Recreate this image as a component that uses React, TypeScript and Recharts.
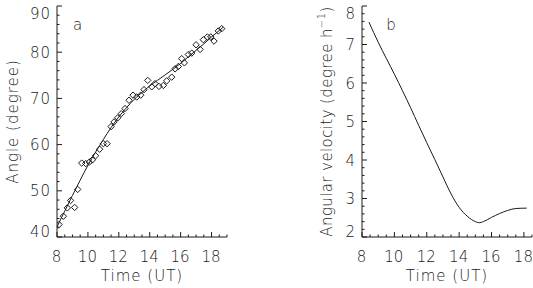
import { ComposedChart, Line, Scatter, XAxis, YAxis } from "recharts";

// panel a: observed angles and the fitted curve
const obsTime = [8.13, 8.41, 8.67, 8.88, 9.14, 9.34, 9.6, 9.86, 10.09, 10.29, 10.5, 10.76, 11.0, 11.24, 11.5, 11.69, 11.93, 12.16, 12.4, 12.66, 12.92, 13.16, 13.42, 13.63, 13.87, 14.13, 14.34, 14.6, 14.88, 15.1, 15.42, 15.64, 15.85, 16.07, 16.24, 16.5, 16.72, 17.0, 17.26, 17.47, 17.73, 17.95, 18.16, 18.44, 18.66];
const obsAngle = [42.7, 44.5, 46.3, 47.9, 46.4, 50.3, 56.0, 55.9, 56.2, 56.7, 57.6, 59.0, 60.2, 60.2, 63.9, 64.9, 65.8, 66.7, 67.8, 69.6, 70.7, 70.3, 70.7, 71.9, 73.9, 72.5, 73.2, 72.6, 72.8, 73.8, 74.6, 76.4, 76.9, 78.6, 77.7, 79.5, 79.8, 81.6, 80.6, 82.7, 83.3, 83.3, 82.4, 84.6, 85.1];

const fitTime = [8.0, 8.5, 9.0, 9.5, 10.0, 10.5, 11.0, 11.5, 12.0, 12.5, 13.0, 13.5, 14.0, 14.5, 15.0, 15.5, 16.0, 16.5, 17.0, 17.5, 18.0, 18.5, 18.75];
const fitAngle = [42.2, 45.6, 49.0, 52.3, 55.5, 58.4, 61.1, 63.7, 66.0, 68.0, 69.8, 71.3, 72.7, 73.9, 75.1, 76.3, 77.6, 79.0, 80.4, 81.8, 83.3, 84.7, 85.4];

// panel b: angular velocity
const velTime = [8.43, 9.0, 9.5, 10.0, 10.5, 11.0, 11.5, 12.0, 12.5, 13.0, 13.5, 14.0, 14.5, 15.0, 15.25, 15.5, 16.0, 16.5, 17.0, 17.5, 18.17];
const velValue = [7.58, 7.06, 6.64, 6.23, 5.8, 5.36, 4.9, 4.45, 4.01, 3.56, 3.12, 2.77, 2.54, 2.4, 2.37, 2.4, 2.51, 2.61, 2.69, 2.74, 2.75];

const timeMajor = [8, 10, 12, 14, 16, 18];
const timeMinorA = [8, 8.5, 9, 9.5, 10, 10.5, 11, 11.5, 12, 12.5, 13, 13.5, 14, 14.5, 15, 15.5, 16, 16.5, 17, 17.5, 18, 18.5, 19];
const timeMinorB = [8, 8.5, 9, 9.5, 10, 10.5, 11, 11.5, 12, 12.5, 13, 13.5, 14, 14.5, 15, 15.5, 16, 16.5, 17, 17.5, 18, 18.5];
const angleMajor = [40, 50, 60, 70, 80, 90];
const angleMinor = [40, 42, 44, 46, 48, 50, 52, 54, 56, 58, 60, 62, 64, 66, 68, 70, 72, 74, 76, 78, 80, 82, 84, 86, 88, 90];
const velMajor = [2, 3, 4, 5, 6, 7, 8];
const velMinor = [2, 2.2, 2.4, 2.6, 2.8, 3, 3.2, 3.4, 3.6, 3.8, 4, 4.2, 4.4, 4.6, 4.8, 5, 5.2, 5.4, 5.6, 5.8, 6, 6.2, 6.4, 6.6, 6.8, 7, 7.2, 7.4, 7.6, 7.8, 8];

const obsData = obsTime.map((t, i) => ({ t, a: obsAngle[i] }));
const fitData = fitTime.map((t, i) => ({ t, a: fitAngle[i] }));
const velData = velTime.map((t, i) => ({ t, v: velValue[i] }));

const FONT = "'DejaVu Sans', 'Liberation Sans', sans-serif";
const FW = 200;
const INK = "#1a1a1a";

type Side = "left" | "right" | "top" | "bottom";

function makeTick(side: Side, majors: number[], showLabels: boolean, lo: number, hi: number) {
  return (props: any) => {
    const { x, y, payload } = props;
    const v = payload.value;
    const major = majors.includes(v);
    const len = major ? 5 : 2.5;
    let line;
    if (side === "left") line = <line x1={x} y1={y} x2={x + len} y2={y} stroke={INK} />;
    else if (side === "right") line = <line x1={x} y1={y} x2={x - len} y2={y} stroke={INK} />;
    else if (side === "top") line = <line x1={x} y1={y} x2={x} y2={y + len} stroke={INK} />;
    else line = <line x1={x} y1={y} x2={x} y2={y - len} stroke={INK} />;

    let label = null;
    if (showLabels && major) {
      if (side === "left") {
        let dy = 5.5;
        if (v === hi) dy += 7;
        if (v === lo) dy -= 6;
        label = (
          <text x={x - 6} y={y} dy={dy} textAnchor="end" fontSize={15} fontWeight={FW} fontFamily={FONT} fill={INK} letterSpacing={1}>
            {v}
          </text>
        );
      } else if (side === "bottom") {
        label = (
          <text x={x - 0.5} y={y + 19} dy={5.5} textAnchor="middle" fontSize={15} fontWeight={FW} fontFamily={FONT} fill={INK}>
            {v}
          </text>
        );
      }
    }
    return (
      <g>
        {line}
        {label}
      </g>
    );
  };
}

const Diamond = (props: any) => {
  const { cx, cy } = props;
  const r = 3.2;
  return <path d={`M${cx},${cy - r}L${cx + r},${cy}L${cx},${cy + r}L${cx - r},${cy}Z`} fill="none" stroke={INK} strokeWidth={1} />;
};

const yTitle = (cxOffset: number, spacing: number, children: any) => (props: any) => {
  const { x, y, height } = props.viewBox;
  const cx = x + cxOffset;
  const cy = y + height / 2;
  return (
    <text x={cx} y={cy} transform={`rotate(-90, ${cx}, ${cy})`} textAnchor="middle" dominantBaseline="central" fontSize={15} fontWeight={FW} fontFamily={FONT} fill={INK} letterSpacing={spacing}>
      {children}
    </text>
  );
};

const xTitle = (props: any) => {
  const { x, y, width } = props.viewBox;
  return (
    <text x={x + width / 2} y={y + 39} textAnchor="middle" dominantBaseline="central" fontSize={15} fontWeight={FW} fontFamily={FONT} fill={INK} letterSpacing={1}>
      Time (UT)
    </text>
  );
};

const axisLine = { stroke: INK, strokeWidth: 1 };

export default function App() {
  return (
    <div style={{ position: "absolute", left: 0, top: 0, width: 533, height: 288, background: "#fff" }}>
      <div style={{ position: "absolute", left: 0, top: 0 }}>
        <ComposedChart width={240} height={288} margin={{ top: 6, right: 13, bottom: 0, left: 0 }}>
          <XAxis xAxisId="b" dataKey="t" type="number" domain={[8, 19]} ticks={timeMinorA} interval={0} allowDataOverflow
            height={51} tickSize={0} tickMargin={0} tickLine={false} axisLine={axisLine}
            tick={makeTick("bottom", timeMajor, true, 8, 19)} label={{ content: xTitle }} />
          <XAxis xAxisId="top" orientation="top" type="number" domain={[8, 19]} ticks={timeMinorA} interval={0} allowDataOverflow
            height={0} tickSize={0} tickMargin={0} tickLine={false} axisLine={axisLine}
            tick={makeTick("top", timeMajor, false, 8, 19)} />
          <YAxis yAxisId="l" dataKey="a" type="number" domain={[40, 90]} ticks={angleMinor} interval={0} allowDataOverflow
            width={57} tickSize={0} tickMargin={0} tickLine={false} axisLine={axisLine}
            tick={makeTick("left", angleMajor, true, 40, 90)} label={{ content: yTitle(12.5, 1, "Angle (degree)") }} />
          <YAxis yAxisId="r" orientation="right" type="number" domain={[40, 90]} ticks={angleMinor} interval={0} allowDataOverflow
            width={0} tickSize={0} tickMargin={0} tickLine={false} axisLine={axisLine}
            tick={makeTick("right", angleMajor, false, 40, 90)} />
          <Line xAxisId="b" yAxisId="l" data={fitData} dataKey="a" type="monotone" stroke={INK} strokeWidth={1} dot={false} isAnimationActive={false} />
          <Scatter xAxisId="b" yAxisId="l" data={obsData} dataKey="a" shape={Diamond} isAnimationActive={false} />
        </ComposedChart>
      </div>
      <div style={{ position: "absolute", left: 300, top: 0 }}>
        <ComposedChart width={233} height={288} margin={{ top: 6, right: 1, bottom: 0, left: 0 }}>
          <XAxis xAxisId="b" dataKey="t" type="number" domain={[8, 18.5]} ticks={timeMinorB} interval={0} allowDataOverflow
            height={51} tickSize={0} tickMargin={0} tickLine={false} axisLine={axisLine}
            tick={makeTick("bottom", timeMajor, true, 8, 18.5)} label={{ content: xTitle }} />
          <XAxis xAxisId="top" orientation="top" type="number" domain={[8, 18.5]} ticks={timeMinorB} interval={0} allowDataOverflow
            height={0} tickSize={0} tickMargin={0} tickLine={false} axisLine={axisLine}
            tick={makeTick("top", timeMajor, false, 8, 18.5)} />
          <YAxis yAxisId="l" dataKey="v" type="number" domain={[2, 8]} ticks={velMinor} interval={0} allowDataOverflow
            width={62} tickSize={0} tickMargin={0} tickLine={false} axisLine={axisLine}
            tick={makeTick("left", velMajor, true, 2, 8)}
            label={{
              content: yTitle(26.5, 0.4, (
                <>
                  Angular velocity (degree h
                  <tspan dy={-6} fontSize={10}>−1</tspan>
                  <tspan dy={6}>)</tspan>
                </>
              )),
            }} />
          <YAxis yAxisId="r" orientation="right" type="number" domain={[2, 8]} ticks={velMinor} interval={0} allowDataOverflow
            width={0} tickSize={0} tickMargin={0} tickLine={false} axisLine={axisLine}
            tick={makeTick("right", velMajor, false, 2, 8)} />
          <Line xAxisId="b" yAxisId="l" data={velData} dataKey="v" type="monotone" stroke={INK} strokeWidth={1} dot={false} isAnimationActive={false} />
        </ComposedChart>
      </div>
      <svg width={533} height={288} style={{ position: "absolute", left: 0, top: 0, pointerEvents: "none" }}>
        <text x={77.5} y={30} textAnchor="middle" fontSize={15} fontWeight={FW} fontFamily={FONT} fill={INK}>a</text>
        <text x={391} y={30} textAnchor="middle" fontSize={15} fontWeight={FW} fontFamily={FONT} fill={INK}>b</text>
      </svg>
    </div>
  );
}
